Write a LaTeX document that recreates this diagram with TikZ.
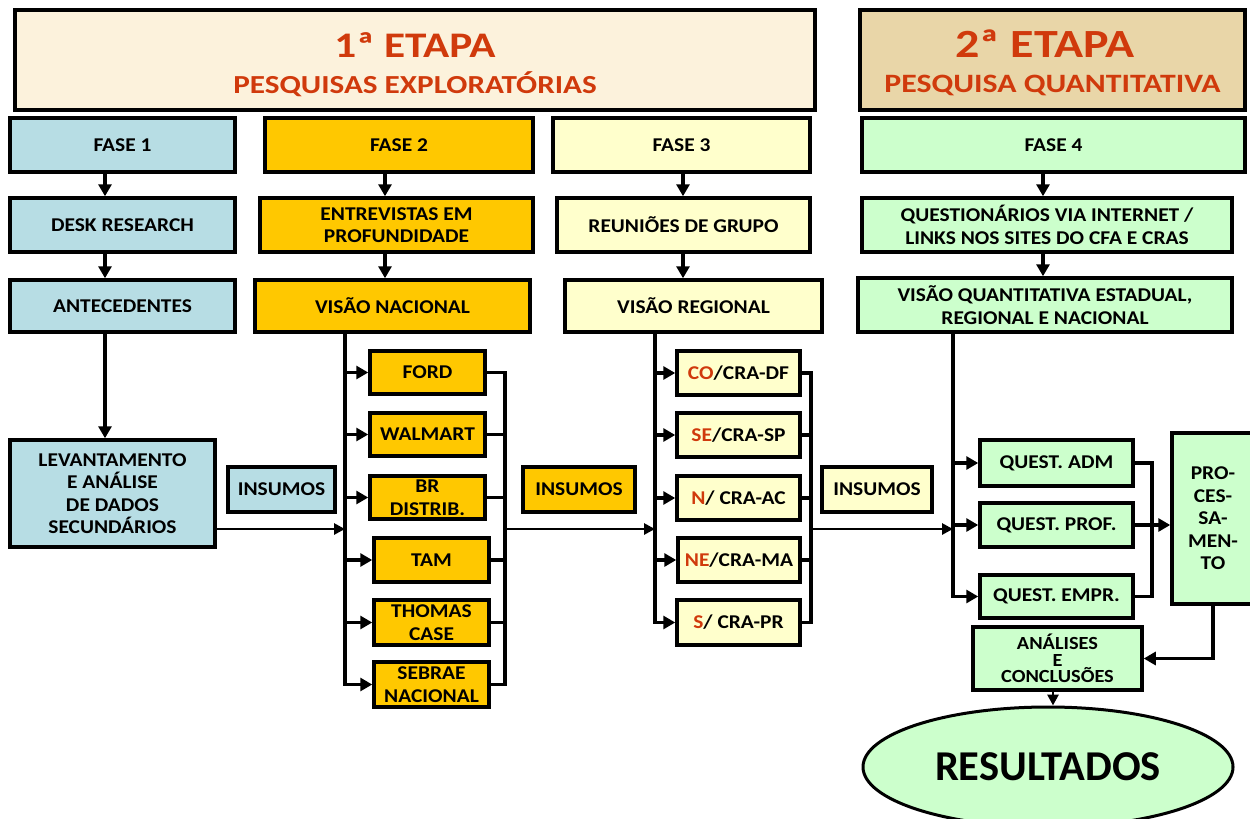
\documentclass[tikz,border=0pt]{standalone}
\usepackage{fontspec}
\setmainfont{Carlito}
\newfontfamily\myboxfont{Carlito}[FakeStretch=1.1]
\newfontfamily\myheadfont{Carlito}[FakeStretch=1.2]
\usetikzlibrary{arrows.meta,shapes.geometric}
\definecolor{cblue}{HTML}{B7DDE4}
\definecolor{cgold}{HTML}{FFC800}
\definecolor{cyel}{HTML}{FFFFCC}
\definecolor{cgreen}{HTML}{CCFFCC}
\definecolor{cred}{HTML}{D03A0C}
\definecolor{chead}{HTML}{FCF2DC}
\definecolor{chead2}{HTML}{E9D6A8}
\newcommand\mytightls{\lineskiplimit=-50pt\relax}
\begin{document}
\begin{tikzpicture}[x=1pt,y=-1pt,
  box/.style={draw, line width=3.5pt, align=center, inner sep=0pt,
    font=\myboxfont\bfseries\fontsize{19.5}{22.5}\selectfont},
  hbox/.style={draw, line width=4pt, inner sep=0pt},
  htitle/.style={anchor=base, inner sep=0pt, text=cred},
  ln/.style={line width=3.5pt, line join=miter},
  arr/.style={line width=3.5pt, line join=miter, -{Triangle[length=12pt,width=13pt]}},
  arrs/.style={line width=2.8pt, -{Triangle[length=11pt,width=11pt]}}]
\useasboundingbox (0,0) rectangle (1250,819);
% headers
\node[hbox, fill=chead, minimum width=800pt, minimum height=100pt] (h1) at (415,60) {};
\node[htitle, font=\myheadfont\bfseries\fontsize{36}{40}\selectfont] (h1a) at (415,57) {1ª ETAPA};
\node[htitle, font=\myheadfont\bfseries\fontsize{26}{30}\selectfont] (h1b) at (415,93) {PESQUISAS EXPLORATÓRIAS};
\node[hbox, fill=chead2, minimum width=385pt, minimum height=100pt] (h2) at (1052.5,60) {};
\node[htitle, font=\myheadfont\bfseries\fontsize{40}{44}\selectfont] (h2a) at (1045,57) {2ª ETAPA};
\node[htitle, font=\myheadfont\bfseries\fontsize{26.5}{30}\selectfont] (h2b) at (1052.5,92.5) {PESQUISA QUANTITATIVA};
% fase row
\node[box, fill=cblue, minimum width=225pt, minimum height=54pt] (f1) at (122.5,145) {FASE 1};
\node[box, fill=cgold, minimum width=268pt, minimum height=54pt] (f2) at (399,145) {FASE 2};
\node[box, fill=cyel, minimum width=257pt, minimum height=54pt] (f3) at (681.5,145) {FASE 3};
\node[box, fill=cgreen, minimum width=383pt, minimum height=54pt] (f4) at (1053.5,145) {FASE 4};
% row 2
\node[box, fill=cblue, minimum width=225pt, minimum height=54pt] (d1) at (122.5,225) {DESK RESEARCH};
\node[box, fill=cgold, minimum width=273pt, minimum height=54pt] (d2) at (396.5,225) {ENTREVISTAS EM\\PROFUNDIDADE};
\node[box, fill=cyel, minimum width=253pt, minimum height=54pt] (d3) at (683.5,225) {REUNIÕES DE GRUPO};
\node[box, fill=cgreen, minimum width=370pt, minimum height=54pt] (d4) at (1047,225) {QUESTIONÁRIOS VIA INTERNET /\\LINKS NOS SITES DO CFA E CRAS};
% row 3
\node[box, fill=cblue, minimum width=225pt, minimum height=52pt] (v1) at (122.5,306) {ANTECEDENTES};
\node[box, fill=cgold, minimum width=275pt, minimum height=52pt] (v2) at (392.5,306) {VISÃO NACIONAL};
\node[box, fill=cyel, minimum width=257pt, minimum height=52pt] (v3) at (693.5,306) {VISÃO REGIONAL};
\node[box, fill=cgreen, minimum width=374pt, minimum height=54pt] (v4) at (1045,305) {VISÃO QUANTITATIVA ESTADUAL,\\REGIONAL E NACIONAL};
% fase 1 lower
\node[box, fill=cblue, minimum width=205pt, minimum height=107pt] (lev) at (112.5,493.5) {LEVANTAMENTO\\E ANÁLISE\\DE DADOS\\SECUNDÁRIOS};
\node[box, fill=cblue, minimum width=107pt, minimum height=45pt] (ins1) at (281.5,489.5) {INSUMOS};
\node[box, fill=cgold, minimum width=112pt, minimum height=45pt] (ins2) at (579,489.5) {INSUMOS};
\node[box, fill=cyel, minimum width=110pt, minimum height=45pt] (ins3) at (877,489.5) {INSUMOS};
% fase 2 list
\node[box, fill=cgold, minimum width=115pt, minimum height=43pt] (ford) at (427.5,372.5) {FORD};
\node[box, fill=cgold, minimum width=115pt, minimum height=43pt] (walmart) at (427.5,434.5) {WALMART};
\node[box, fill=cgold, minimum width=115pt, minimum height=43pt] (br) at (427.5,497.5) {BR\\DISTRIB.};
\node[box, fill=cgold, minimum width=115pt, minimum height=44pt] (tam) at (431.5,560) {TAM};
\node[box, fill=cgold, minimum width=115pt, minimum height=45pt] (thomas) at (431.5,622.5) {THOMAS\\CASE};
\node[box, fill=cgold, minimum width=115pt, minimum height=45pt] (sebrae) at (431.5,684.5) {SEBRAE\\NACIONAL};
% fase 3 list
\node[box, fill=cyel, minimum width=123pt, minimum height=44pt] (co) at (738.5,373) {\textcolor{cred}{CO}/CRA-DF};
\node[box, fill=cyel, minimum width=123pt, minimum height=44pt] (se) at (738.5,435) {\textcolor{cred}{SE}/CRA-SP};
\node[box, fill=cyel, minimum width=123pt, minimum height=44pt] (n) at (738.5,498) {\textcolor{cred}{N}/ CRA-AC};
\node[box, fill=cyel, minimum width=122pt, minimum height=44pt] (ne) at (739,560) {\textcolor{cred}{NE}/CRA-MA};
\node[box, fill=cyel, minimum width=123pt, minimum height=45pt] (s) at (738.5,622.5) {\textcolor{cred}{S}/ CRA-PR};
% fase 4 lower
\node[box, fill=cgreen, minimum width=153pt, minimum height=46pt] (qa) at (1056.5,463) {QUEST. ADM};
\node[box, fill=cgreen, minimum width=153pt, minimum height=44pt] (qp) at (1056.5,525) {QUEST. PROF.};
\node[box, fill=cgreen, minimum width=153pt, minimum height=43pt] (qe) at (1056.5,596.5) {QUEST. EMPR.};
\node[box, fill=cgreen, minimum width=82pt, minimum height=171pt] (proc) at (1213,518.5) {PRO-\\CES-\\SA-\\MEN-\\TO};
\node[box, fill=cgreen, minimum width=169pt, minimum height=63pt,
  font={\myboxfont\bfseries\fontsize{18.5}{16.7}\selectfont\mytightls}] (an) at (1057.5,658.5) {ANÁLISES\\E\\CONCLUSÕES};
\node[ellipse, draw, line width=3pt, fill=cgreen, minimum width=370pt, minimum height=120pt, inner sep=0pt,
  font=\bfseries\fontsize{42.5}{46}\selectfont] (res) at (1048,767) {RESULTADOS};
% coordinates
\coordinate (a1) at (105,0);
\coordinate (a2) at (385,0);
\coordinate (a3) at (683,0);
\coordinate (a4) at (1043,0);
\coordinate (b2) at (345,0);
\coordinate (c2) at (505,0);
\coordinate (b3) at (655,0);
\coordinate (c3) at (811,0);
\coordinate (b4) at (953,0);
\coordinate (c4) at (1152,0);
\coordinate (iy) at (0,529);
\coordinate (a5) at (1053,0);
% vertical arrows
\foreach \a/\p/\q in {a1/f1/d1, a1/d1/v1, a2/f2/d2, a2/d2/v2, a3/f3/d3, a3/d3/v3, a4/f4/d4, a4/d4/v4}
  \draw[arr] (\p.south -| \a) -- (\q.north -| \a);
\draw[arr] (v1.south -| a1) -- (lev.north -| a1);
% fase 2 bus
\draw[arr] (v2.south -| b2) -- (sebrae.west -| b2) -- (sebrae.west);
\foreach \t in {ford, walmart, br, tam, thomas}
  \draw[arr] (\t.west -| b2) -- (\t.west);
\draw[ln] (ford.east) -- (ford.east -| c2) -- (sebrae.east -| c2) -- (sebrae.east);
\foreach \t in {walmart, br, tam, thomas}
  \draw[ln] (\t.east) -- (\t.east -| c2);
% fase 3 bus
\draw[arr] (v3.south -| b3) -- (s.west -| b3) -- (s.west);
\foreach \t in {co, se, n, ne}
  \draw[arr] (\t.west -| b3) -- (\t.west);
\draw[ln] (co.east) -- (co.east -| c3) -- (s.east -| c3) -- (s.east);
\foreach \t in {se, n, ne}
  \draw[ln] (\t.east) -- (\t.east -| c3);
% fase 4 bus
\draw[arr] (v4.south -| b4) -- (qe.west -| b4) -- (qe.west);
\foreach \t in {qa, qp}
  \draw[arr] (\t.west -| b4) -- (\t.west);
\draw[ln] (qa.east) -- (qa.east -| c4) -- (qe.east -| c4) -- (qe.east);
\draw[arr] (qp.east) -- (proc.west |- qp.east);
\draw[arr] (proc.south) -- (proc.south |- an.east) -- (an.east);
\draw[arrs] (an.south -| a5) -- (res.north -| a5);
% insumos flows
\draw[arrs] (lev.east |- iy) -- (iy -| b2);
\draw[arrs] (iy -| c2) -- (iy -| b3);
\draw[arrs] (iy -| c3) -- (iy -| b4);
\end{tikzpicture}
\end{document}
